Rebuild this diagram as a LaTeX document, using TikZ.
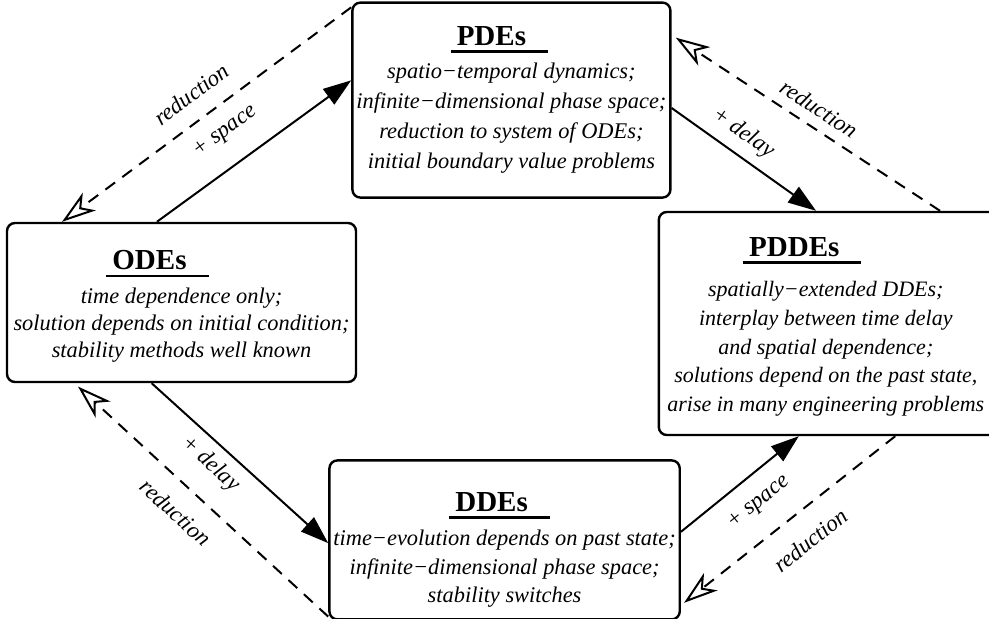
\documentclass[tikz,border=0pt]{standalone}
\usepackage{fontspec}
\setmainfont{Liberation Serif}
\usetikzlibrary{arrows.meta,calc,positioning}

% bold model name, underlined with a trailing gap; optional argument moves it to the left
\newcommand\modelname[2][0pt]{%
  \setbox0\hbox{\hspace{3pt}\fontsize{14.5}{16}\selectfont\bfseries\upshape #2\hspace{11pt}}%
  \rlap{\rule[-3.6pt]{\wd0}{1.1pt}}\box0\hspace*{#1}}

\tikzset{model/.style={rectangle,draw,line width=1.2pt,rounded corners=4pt,align=center,inner sep=2pt,
    font=\fontsize{11.2}{14}\selectfont\itshape},
  extend/.style={line width=1pt,-{Triangle[length=14pt,width=9.5pt]}},
  reduceline/.style={line width=1pt,dash pattern=on 6pt off 4.5pt,-{Stealth[open,length=17pt,width=11pt,inset=5pt]}},
  edgetag/.style={sloped,inner sep=1pt,font=\fontsize{11.5}{13}\selectfont\itshape}}

\begin{document}
\begin{tikzpicture}[x=0.5pt,y=-0.5pt]
  \useasboundingbox (0,0) rectangle (989,619);

  \node (odes)  [model,minimum width=174.5pt,minimum height=79.5pt] at (181.5,302.5)
        {\rule{0pt}{13.6pt}\modelname[24pt]{ODEs}\\[3pt] time dependence only;\\[-0.5pt] solution depends on initial condition;\\[-0.5pt] stability methods well known};
  \node (pdes)  [model,minimum width=157.5pt,minimum height=97.5pt,above right=11.5pt and -3pt of odes.north east]
        {\modelname[12pt]{PDEs}\\[2.5pt] spatio−temporal dynamics;\\[1pt] infinite−dimensional phase space;\\[1pt]
         reduction to system of ODEs;\\[1.2pt] initial boundary value problems};
  \node (ddes)  [model,minimum width=172pt,minimum height=79.5pt,below right=38pt and -14.5pt of odes.south east]
        {\rule{0pt}{19.6pt}\modelname[5pt]{DDEs}\\[3pt] time−evolution depends on past state;\\[0.3pt] infinite−dimensional phase space;\\[0.3pt] stability switches};
  \node (pddes) [model,minimum width=171pt,minimum height=111.5pt,below right=6pt and -7pt of pdes.south east]
        {\hspace*{-4pt}\fontsize{11}{14}\selectfont\begin{tabular}{@{}c@{}}\rule{0pt}{14.8pt}\modelname[23.5pt]{PDDEs}\\[6pt] spatially−extended DDEs;\\[0.4pt]
         interplay between time delay\\[0.4pt] and spatial dependence;\\[0.4pt] solutions depend on the past state,\\[0.4pt]
         arise in many engineering problems\end{tabular}};

  % adding space or delay
  \path ($(odes.north west)!0.43!(odes.north east)$) edge[extend] node[edgetag,pos=0.45,above=10pt] {+ space} ($(pdes.north west)!0.4!(pdes.south west)$)
        ($(pdes.north east)!0.54!(pdes.south east)$) edge[extend] node[edgetag,pos=0.41,above=3.7pt] {+ delay} ($(pddes.north west)!0.46!(pddes.north east)$)
        ($(odes.south west)!0.415!(odes.south east)$) edge[extend] node[edgetag,pos=0.41,below=3.5pt] {+ delay} ($(ddes.north west)!0.52!(ddes.south west)$)
        ($(ddes.north east)!0.45!(ddes.south east)$) edge[extend] node[edgetag,pos=0.52,below=7.5pt] {+ space} ($(pddes.south west)!0.41!(pddes.south east)$);

  % reductions
  \path ($(pdes.north west)!0.03!(pdes.south west)$) edge[reduceline] node[edgetag,pos=0.5,above=7.2pt] {reduction} ($(odes.north west)!0.16!(odes.north east)$)
        ($(pddes.north west)!0.82!(pddes.north east)$) edge[reduceline,shorten >=2.5pt] node[edgetag,pos=0.49,above=4pt] {reduction} ($(pdes.north east)!0.17!(pdes.south east)$)
        ($(ddes.north west)!0.975!(ddes.south west)$) edge[reduceline,shorten >=2.5pt] node[edgetag,pos=0.53,below=7.7pt] {reduction} ($(odes.south west)!0.195!(odes.south east)$)
        ($(pddes.south west)!0.69!(pddes.south east)$) edge[reduceline,shorten >=2pt] node[edgetag,pos=0.48,below=9pt] {reduction} ($(ddes.north east)!0.905!(ddes.south east)$);
\end{tikzpicture}
\end{document}
